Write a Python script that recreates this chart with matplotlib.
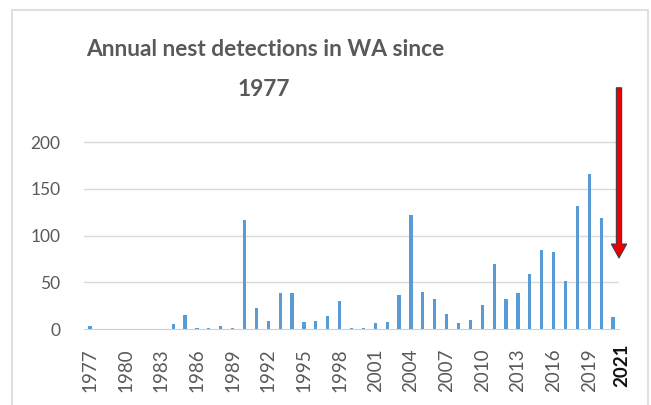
import matplotlib
matplotlib.use("Agg")
import matplotlib.pyplot as plt
from matplotlib.patches import Rectangle

years = list(range(1977, 2022))
nests = [3, 0, 0, 0, 0, 0, 0, 5, 15, 1, 1, 3, 1, 117, 22, 9, 38, 38, 7, 9,
         14, 30, 1, 1, 6, 8, 36, 122, 40, 32, 16, 6, 10, 26, 70, 32, 39, 59,
         84, 82, 51, 132, 166, 119, 13]
tick_years = list(range(1977, 2020, 3))
title = "Annual nest detections in WA since\n1977"
highlight_label = "2021"

plt.rcParams['font.family'] = ['Lato', 'DejaVu Sans']
W, H = 651, 405
fig = plt.figure(figsize=(W / 100, H / 100), dpi=100)
ax = fig.add_axes([84 / W, (H - 329) / H, (619 - 84) / W, (329 - 128) / H])

ax.bar(years, nests, width=0.28, color='#5B9BD5', zorder=3)
ax.set_xlim(1976.5, 2021.5)
ax.set_ylim(0, 215)
ax.set_yticks([0, 50, 100, 150, 200])
ax.set_xticks(tick_years)
ax.set_xticklabels([str(y) for y in tick_years], rotation=90)
ax.tick_params(axis='both', length=0, colors='#595959')
ax.tick_params(axis='x', pad=14, labelsize=13.5)
ax.tick_params(axis='y', pad=17, labelsize=12.5)
for y in [50, 100, 150, 200]:
    ax.axhline(y, color='#d9d9d9', lw=1, zorder=1)
for s in ['top', 'right', 'left']:
    ax.spines[s].set_visible(False)
ax.spines['bottom'].set_color('#d0d0d0')

ax.text(2021.73, -16, highlight_label, rotation=90, ha='center', va='top',
        fontsize=13.5, fontweight='bold', color='#111111')

ax.annotate('', xy=(2021.5, 76), xytext=(2021.5, 258), annotation_clip=False,
            arrowprops=dict(arrowstyle='simple,head_width=1.1,head_length=1.0,tail_width=0.38',
                            mutation_scale=10, fc='#ee0000', ec='#3a3a4a', lw=0.8,
                            shrinkA=0, shrinkB=0), zorder=5)

title_lines = title.split("\n")
fig.text(265 / W, 1 - 50 / H, title_lines[0], ha='center', va='center',
         fontsize=16.4, fontweight='bold', color='#595959')
fig.text(264 / W, 1 - 90 / H, title_lines[1], ha='center', va='center',
         fontsize=16.4, fontweight='bold', color='#595959')

fig.patches.append(Rectangle((12 / W, -0.05), (648 - 12) / W, (1 - 10 / H) + 0.05,
                             transform=fig.transFigure, fill=False, ec='#d9d9d9', lw=1.2))

fig.savefig('out.png', dpi=100)
